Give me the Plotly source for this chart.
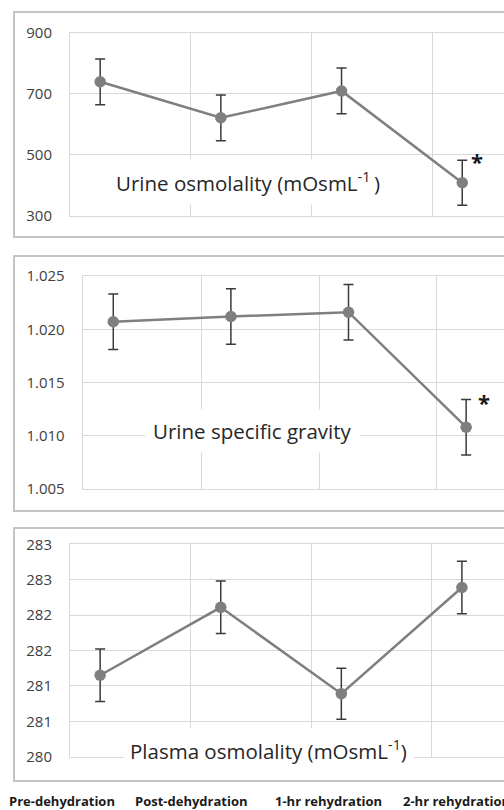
import plotly.graph_objects as go

W, H = 504, 810

categories = ["Pre-dehydration", "Post-dehydration", "1-hr rehydration", "2-hr rehydration"]
xpos = [0, 1, 2, 3]

urine_osm = [739, 621, 709, 408]
urine_osm_err = [75, 75, 75, 74]

usg = [1.0207, 1.0212, 1.0216, 1.0108]
usg_err = [0.0026, 0.0026, 0.0026, 0.0026]

plasma_osm = [281.15, 282.11, 280.89, 282.39]
plasma_osm_err = [0.37, 0.37, 0.36, 0.37]

y1_ticks = [300, 500, 700, 900]
y1_text = ["300", "500", "700", "900"]
y2_ticks = [1.005, 1.010, 1.015, 1.020, 1.025]
y2_text = ["1.005", "1.010", "1.015", "1.020", "1.025"]
y3_ticks = [280, 280.5, 281, 281.5, 282, 282.5, 283]
y3_text = ["280", "281", "281", "282", "282", "283", "283"]

titles = ["Urine osmolality (mOsmL<sup>-1 </sup>)",
          "Urine specific gravity",
          "Plasma osmolality (mOsmL<sup>-1</sup>)"]


def px(x):
    return x / W


def py(y):
    return 1 - y / H


LINE = "#7f7f7f"
ERR = "#3a3a3a"
GRID = "#d9d9d9"
TXT = "#404040"
FONT = "Open Sans"

fig = go.Figure()

series = [(urine_osm, urine_osm_err), (usg, usg_err), (plasma_osm, plasma_osm_err)]
for i, (vals, errs) in enumerate(series):
    n = "" if i == 0 else str(i + 1)
    fig.add_trace(go.Scatter(
        x=xpos, y=vals, mode="lines+markers",
        line=dict(color=LINE, width=2.5),
        marker=dict(color=LINE, size=11.5),
        error_y=dict(type="data", array=errs, color=ERR, thickness=1.5, width=5),
        xaxis="x" + n, yaxis="y" + n, showlegend=False, cliponaxis=False,
    ))

# panel geometry (pixels)
panels = [
    dict(xl=70, yt=32.7, yb=215.7, xr=[-0.25, 3.346], yr=[300, 900], tv=y1_ticks, tt=y1_text),
    dict(xl=82.7, yt=276, yb=489, xr=[-0.26, 3.322], yr=[1.005, 1.025], tv=y2_ticks, tt=y2_text),
    dict(xl=70, yt=544.3, yb=756.7, xr=[-0.25, 3.349], yr=[280, 283], tv=y3_ticks, tt=y3_text),
]

layout = dict(
    width=W, height=H, margin=dict(l=0, r=0, t=0, b=0, pad=0, autoexpand=False),
    paper_bgcolor="white", plot_bgcolor="white",
    font=dict(family=FONT, color=TXT),
)
for i, p in enumerate(panels):
    n = "" if i == 0 else str(i + 1)
    layout["xaxis" + n] = dict(
        domain=[px(p["xl"]), 1], range=p["xr"], anchor="y" + n, automargin=False,
        tickvals=[0.75, 1.75, 2.75], showticklabels=False,
        showgrid=True, gridcolor=GRID, gridwidth=1, zeroline=False,
        showline=True, linecolor=GRID, linewidth=1, mirror=True,
    )
    layout["yaxis" + n] = dict(
        domain=[py(p["yb"]), py(p["yt"])], range=p["yr"], anchor="x" + n, automargin=False,
        tickvals=p["tv"], ticktext=p["tt"],
        showgrid=True, gridcolor=GRID, gridwidth=1, zeroline=False,
        showline=True, linecolor=GRID, linewidth=1,
        ticks="outside", ticklen=14, tickcolor="rgba(0,0,0,0)",
        tickfont=dict(family=FONT, size=15, color=TXT),
    )
fig.update_layout(**layout)

# panel borders
borders = [(14, 12, 237), (14, 256, 511), (14, 528, 781)]
for x0, y0, y1 in borders:
    fig.add_shape(type="rect", xref="paper", yref="paper",
                  x0=px(x0), x1=px(W + 10), y0=py(y1), y1=py(y0),
                  line=dict(color="#c4c4c4", width=2), fillcolor="rgba(0,0,0,0)", layer="above")

# in-panel titles with white boxes
title_pos = [(248, 182, 7), (252, 431, 7), (268, 750, 6)]
for t, (x, y, pad) in zip(titles, title_pos):
    fig.add_annotation(text=t, xref="paper", yref="paper", x=px(x), y=py(y),
                       xanchor="center", yanchor="middle", showarrow=False,
                       bgcolor="white", borderpad=pad,
                       font=dict(family=FONT, size=20.5, color="#262626"))

# significance asterisks
for x, y in [(477, 161), (484, 402)]:
    fig.add_annotation(text="<b>*</b>", xref="paper", yref="paper", x=px(x), y=py(y),
                       xanchor="center", yanchor="middle", showarrow=False,
                       font=dict(family=FONT, size=22, color="#1a1a1a"))

# bottom category labels
label_x = [(62, "center"), (191, "center"), (328, "center"), (402, "left")]
for c, (x, anc) in zip(categories, label_x):
    fig.add_annotation(text="<b>" + c + "</b>", xref="paper", yref="paper",
                       x=px(x), y=py(801), xanchor=anc, yanchor="middle",
                       showarrow=False, borderpad=0,
                       font=dict(family=FONT, size=13, color="#1a1a1a"))

post = (
    "document.documentElement.style.margin='0';"
    "document.documentElement.style.overflow='hidden';"
    "document.body.style.margin='0';"
    "document.body.style.overflow='hidden';"
    "var gd=document.querySelector('.plotly-graph-div');"
    "gd.style.position='fixed';gd.style.top='0px';gd.style.left='0px';"
)
fig.write_html("out.html", post_script=post, config={"displayModeBar": False})
